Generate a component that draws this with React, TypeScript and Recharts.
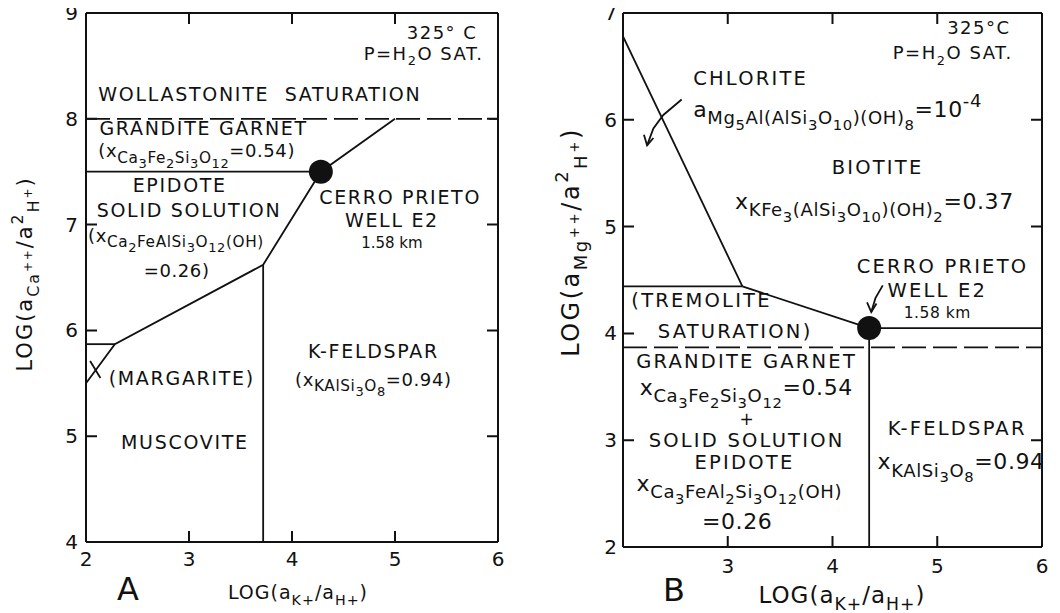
import React from 'react';
import { ScatterChart, Scatter, XAxis, YAxis } from 'recharts';

const FONT = '"DejaVu Sans", "Liberation Sans", sans-serif';
const INK = '#111';

type Pt = { x: number; y: number };
type Note = { x: number; y: number; text: string; anchor?: 'start' | 'middle' | 'end'; kind: string };

// ---------- Panel A: log(aCa++/a2H+) vs log(aK+/aH+) ----------
const aXDomain: [number, number] = [2, 6];
const aYDomain: [number, number] = [4, 9];
const aXTicks = [2, 3, 4, 5, 6];
const aYTicks = [4, 5, 6, 7, 8, 9];
const aWollastonite: Pt[] = [{ x: 2, y: 8 }, { x: 6, y: 8 }];
const aGarnetEpidote: Pt[] = [{ x: 2, y: 7.5 }, { x: 4.28, y: 7.5 }];
const aMainBoundary: Pt[] = [
  { x: 2, y: 5.5 },
  { x: 2.28, y: 5.87 },
  { x: 3.72, y: 6.62 },
  { x: 4.28, y: 7.5 },
  { x: 5.0, y: 8.0 },
];
const aMargariteTop: Pt[] = [{ x: 2, y: 5.87 }, { x: 2.28, y: 5.87 }];
const aMuscoviteKfs: Pt[] = [{ x: 3.72, y: 4 }, { x: 3.72, y: 6.62 }];
const aArrow: Pt[] = [{ x: 2.04, y: 5.71 }, { x: 2.14, y: 5.55 }];
const aWell: Pt[] = [{ x: 4.28, y: 7.5 }];
const aNotes: Note[] = [
  { x: 5.8, y: 8.82, text: '325° C', anchor: 'end', kind: 'cond' },
  { x: 5.86, y: 8.62, text: 'P=H_{2}O SAT.', anchor: 'end', kind: 'cond' },
  { x: 2.12, y: 8.23, text: 'WOLLASTONITE  SATURATION', anchor: 'start', kind: 'name' },
  { x: 2.13, y: 7.91, text: 'GRANDITE GARNET', anchor: 'start', kind: 'name' },
  { x: 2.12, y: 7.7, text: '(x_{Ca_{3}Fe_{2}Si_{3}O_{12}}=0.54)', anchor: 'start', kind: 'formula' },
  { x: 2.91, y: 7.37, text: 'EPIDOTE', kind: 'name' },
  { x: 3.0, y: 7.14, text: 'SOLID SOLUTION', kind: 'name' },
  { x: 2.02, y: 6.9, text: '(x_{Ca_{2}FeAlSi_{3}O_{12}(OH)}', anchor: 'start', kind: 'formula' },
  { x: 2.88, y: 6.57, text: '=0.26)', kind: 'formula' },
  { x: 5.05, y: 7.26, text: 'CERRO PRIETO', kind: 'name' },
  { x: 4.97, y: 7.04, text: 'WELL E2', kind: 'name' },
  { x: 4.97, y: 6.83, text: '1.58 km', kind: 'small' },
  { x: 4.79, y: 5.8, text: 'K-FELDSPAR', kind: 'name' },
  { x: 4.79, y: 5.54, text: '(x_{KAlSi_{3}O_{8}}=0.94)', kind: 'formula' },
  { x: 2.93, y: 5.55, text: '(MARGARITE)', kind: 'name' },
  { x: 2.96, y: 4.94, text: 'MUSCOVITE', kind: 'name' },
];

// ---------- Panel B: log(aMg++/a2H+) vs log(aK+/aH+) ----------
const bXDomain: [number, number] = [2, 6];
const bYDomain: [number, number] = [2, 7];
const bXTicks = [2, 3, 4, 5, 6];
const bXLabels = [3, 4, 5, 6];
const bYTicks = [2, 3, 4, 5, 6, 7];
const bRightTicks = [3, 5, 6];
const bChloriteBoundary: Pt[] = [{ x: 2, y: 6.78 }, { x: 3.14, y: 4.44 }];
const bTremoliteTop: Pt[] = [{ x: 2, y: 4.44 }, { x: 3.14, y: 4.44 }];
const bTremoliteBiotite: Pt[] = [{ x: 3.14, y: 4.44 }, { x: 4.35, y: 4.05 }];
const bBiotiteKfs: Pt[] = [{ x: 4.35, y: 4.05 }, { x: 6, y: 4.05 }];
const bGarnetDash: Pt[] = [{ x: 2, y: 3.87 }, { x: 6, y: 3.87 }];
const bEpidoteKfs: Pt[] = [{ x: 4.35, y: 2 }, { x: 4.35, y: 4.05 }];
const bChloriteArrow: Pt[] = [
  { x: 2.56, y: 6.19 },
  { x: 2.385, y: 6.045 },
  { x: 2.29, y: 5.92 },
  { x: 2.23, y: 5.76 },
];
const bChloriteHead: Pt[] = [{ x: 2.2, y: 5.86 }, { x: 2.23, y: 5.76 }, { x: 2.29, y: 5.83 }];
const bWellArrow: Pt[] = [{ x: 4.48, y: 4.45 }, { x: 4.41, y: 4.33 }, { x: 4.37, y: 4.2 }];
const bWellHead: Pt[] = [{ x: 4.33, y: 4.29 }, { x: 4.37, y: 4.2 }, { x: 4.42, y: 4.28 }];
const bWell: Pt[] = [{ x: 4.35, y: 4.05 }];
const bNotes: Note[] = [
  { x: 5.7, y: 6.86, text: '325°C', anchor: 'end', kind: 'cond' },
  { x: 5.72, y: 6.63, text: 'P=H_{2}O SAT.', anchor: 'end', kind: 'cond' },
  { x: 2.67, y: 6.39, text: 'CHLORITE', anchor: 'start', kind: 'name' },
  { x: 2.67, y: 6.1, text: 'a_{Mg_{5}Al(AlSi_{3}O_{10})(OH)_{8}}=10^{-4}', anchor: 'start', kind: 'formula' },
  { x: 4.43, y: 5.56, text: 'BIOTITE', kind: 'name' },
  { x: 3.07, y: 5.24, text: 'x_{KFe_{3}(AlSi_{3}O_{10})(OH)_{2}}=0.37', anchor: 'start', kind: 'formula' },
  { x: 5.05, y: 4.63, text: 'CERRO PRIETO', kind: 'name' },
  { x: 5.0, y: 4.41, text: 'WELL E2', kind: 'name' },
  { x: 5.0, y: 4.2, text: '1.58 km', kind: 'small' },
  { x: 2.75, y: 4.31, text: '(TREMOLITE', kind: 'name' },
  { x: 3.07, y: 4.02, text: 'SATURATION)', kind: 'name' },
  { x: 3.18, y: 3.74, text: 'GRANDITE GARNET', kind: 'name' },
  { x: 2.16, y: 3.5, text: 'x_{Ca_{3}Fe_{2}Si_{3}O_{12}}=0.54', anchor: 'start', kind: 'formula' },
  { x: 3.18, y: 3.2, text: '+', kind: 'plus' },
  { x: 3.18, y: 3.0, text: 'SOLID SOLUTION', kind: 'name' },
  { x: 3.16, y: 2.8, text: 'EPIDOTE', kind: 'name' },
  { x: 2.13, y: 2.6, text: 'x_{Ca_{3}FeAl_{2}Si_{3}O_{12}(OH)}', anchor: 'start', kind: 'formula' },
  { x: 3.09, y: 2.24, text: '=0.26', kind: 'formula' },
  { x: 5.19, y: 3.11, text: 'K-FELDSPAR', kind: 'name' },
  { x: 4.43, y: 2.8, text: 'x_{KAlSi_{3}O_{8}}=0.94', anchor: 'start', kind: 'formula' },
];

// ---------- layout ----------
const W = 530;
const H = 613;
const A_LAYOUT = { yAxisW: 86, xAxisH: 71, top: 12, right: 31 };
const B_LAYOUT = { yAxisW: 93, xAxisH: 66, top: 12, right: 17 };
const TICK_PX = 11;

// ---------- rich text (sub/superscripts) ----------
type Run = { text: string; size: number; shift: number };

function parseRich(s: string, size: number, shift: number, scale: number): Run[] {
  const runs: Run[] = [];
  let buf = '';
  let i = 0;
  const flush = () => {
    if (buf) runs.push({ text: buf, size, shift });
    buf = '';
  };
  while (i < s.length) {
    const c = s[i];
    if ((c === '_' || c === '^') && s[i + 1] === '{') {
      flush();
      let depth = 0;
      let j = i + 1;
      for (; j < s.length; j++) {
        if (s[j] === '{') depth++;
        else if (s[j] === '}') {
          depth--;
          if (depth === 0) break;
        }
      }
      const inner = s.slice(i + 2, j);
      const off = c === '_' ? size * 0.32 : -size * 0.45;
      runs.push(...parseRich(inner, size * scale, shift + off, scale));
      i = j + 1;
    } else {
      buf += c;
      i++;
    }
  }
  flush();
  return runs;
}

function RichText(props: {
  x: number; y: number; text: string; size: number;
  anchor?: 'start' | 'middle' | 'end'; scale?: number; rotate?: boolean; spacing?: number;
}) {
  const { x, y, text, size, anchor = 'middle', scale = 0.75, rotate, spacing = 0 } = props;
  const runs = parseRich(text, size, 0, scale);
  let prev = 0;
  return (
    <text
      x={x}
      y={y}
      textAnchor={anchor}
      fontFamily={FONT}
      fill={INK}
      letterSpacing={spacing}
      style={{ whiteSpace: 'pre' }}
      transform={rotate ? `rotate(-90 ${x} ${y})` : undefined}
    >
      {runs.map((r, k) => {
        const dy = r.shift - prev;
        prev = r.shift;
        return (
          <tspan key={k} fontSize={r.size} dy={dy}>
            {r.text}
          </tspan>
        );
      })}
    </text>
  );
}

type NoteStyle = Record<string, { size: number; scale: number; spacing: number }>;
const aStyle: NoteStyle = {
  cond: { size: 18, scale: 0.72, spacing: 1.5 },
  name: { size: 19, scale: 0.75, spacing: 1.7 },
  formula: { size: 18, scale: 0.85, spacing: 0.6 },
  small: { size: 15, scale: 0.75, spacing: 0 },
};
const bStyle: NoteStyle = {
  cond: { size: 18, scale: 0.72, spacing: 1.5 },
  name: { size: 19.5, scale: 0.75, spacing: 2.2 },
  plus: { size: 17, scale: 0.75, spacing: 0 },
  formula: { size: 22, scale: 0.82, spacing: 0.6 },
  small: { size: 15.5, scale: 0.75, spacing: 0.5 },
};

const noShape = () => <g />;
const noteShape = (style: NoteStyle) => (p: any) => {
  const s = style[p.payload.kind];
  return (
    <RichText
      x={p.cx}
      y={p.cy + s.size * 0.36}
      text={p.payload.text}
      size={s.size}
      anchor={p.payload.anchor ?? 'middle'}
      scale={s.scale}
      spacing={s.spacing}
    />
  );
};
const wellShape = (p: any) => <circle cx={p.cx} cy={p.cy} r={12} fill={INK} />;

// inward tick marks: a path running along the frame that steps in at each tick value
const tickPath = (values: number[], edge: number, len: number, vertical: boolean): Pt[] =>
  values.slice().flatMap((v) =>
    vertical
      ? [{ x: v, y: edge }, { x: v, y: edge + len }, { x: v, y: edge }]
      : [{ x: edge, y: v }, { x: edge + len, y: v }, { x: edge, y: v }],
  );
const inner = (ticks: number[]) => ticks.slice(1, -1);

const axisLine = { stroke: INK, strokeWidth: 2 };
const labelBottom = (labels: number[], dy: number) => (p: any) =>
  labels.includes(p.payload.value) ? (
    <text x={p.x} y={p.y + dy} textAnchor="middle" fontSize={20} fontFamily={FONT} fill={INK}>
      {p.payload.value}
    </text>
  ) : (
    <g />
  );
const labelLeft = (dx: number) => (p: any) => (
  <text x={p.x - dx} y={p.y + 7} textAnchor="end" fontSize={20} fontFamily={FONT} fill={INK}>
    {p.payload.value}
  </text>
);

const boundaryLine = (data: Pt[], key: string, dashed = false, width = 1.8) => (
  <Scatter
    key={key}
    data={data}
    xAxisId="x"
    yAxisId="y"
    fill={INK}
    shape={noShape}
    line={{ stroke: INK, strokeWidth: width, strokeDasharray: dashed ? '24 7' : undefined }}
    lineJointType="linear"
    isAnimationActive={false}
  />
);

const axisCommon = { tickSize: 0, tickMargin: 0, tickLine: false, axisLine, interval: 0 as const, allowDataOverflow: true };

function PanelA() {
  const plotW = W - A_LAYOUT.yAxisW - A_LAYOUT.right - 1;
  const plotH = H - A_LAYOUT.top - 1 - A_LAYOUT.xAxisH;
  const lx = ((aXDomain[1] - aXDomain[0]) * TICK_PX) / plotW;
  const ly = ((aYDomain[1] - aYDomain[0]) * TICK_PX) / plotH;
  const xTitle = (p: any) => {
    const vb = p.viewBox;
    return (
      <g>
        <RichText x={vb.x + 212} y={vb.y + 57} text="LOG(a_{K+}/a_{H+})" size={19} spacing={1} />
        <text x={vb.x + 42} y={vb.y + 58} textAnchor="middle" fontSize={32} fontFamily={FONT} fill={INK}>
          A
        </text>
      </g>
    );
  };
  const yTitle = (p: any) => {
    const vb = p.viewBox;
    return <RichText x={vb.x + 32} y={274} text="LOG(a_{Ca^{++}}/a^{2}_{H^{+}})" size={21} spacing={2} rotate />;
  };
  return (
    <ScatterChart width={W} height={H} margin={{ top: A_LAYOUT.top, right: A_LAYOUT.right, bottom: 0, left: 0 }}>
      <XAxis xAxisId="x" type="number" dataKey="x" domain={aXDomain} ticks={aXTicks} height={A_LAYOUT.xAxisH}
        {...axisCommon} tick={labelBottom(aXTicks, 24)} label={{ content: xTitle }} />
      <XAxis xAxisId="top" orientation="top" type="number" dataKey="x" domain={aXDomain} ticks={aXTicks}
        height={1} {...axisCommon} tick={noShape} />
      <YAxis yAxisId="y" type="number" dataKey="y" domain={aYDomain} ticks={aYTicks} width={A_LAYOUT.yAxisW}
        {...axisCommon} tick={labelLeft(8)} label={{ content: yTitle }} />
      <YAxis yAxisId="right" orientation="right" type="number" dataKey="y" domain={aYDomain}
        ticks={aYTicks} width={1} {...axisCommon} tick={noShape} />
      <Scatter data={aWell} xAxisId="top" yAxisId="right" shape={noShape} isAnimationActive={false} />
      {boundaryLine(tickPath(inner(aXTicks), aYDomain[0], ly, true), 'tb', false, 2)}
      {boundaryLine(tickPath(inner(aXTicks), aYDomain[1], -ly, true), 'tt', false, 2)}
      {boundaryLine(tickPath(inner(aYTicks), aXDomain[0], lx, false), 'tl', false, 2)}
      {boundaryLine(tickPath(inner(aYTicks), aXDomain[1], -lx, false), 'tr', false, 2)}
      {boundaryLine(aWollastonite, 'wo', true)}
      {boundaryLine(aGarnetEpidote, 'ge')}
      {boundaryLine(aMainBoundary, 'main')}
      {boundaryLine(aMargariteTop, 'mt')}
      {boundaryLine(aMuscoviteKfs, 'mk')}
      {boundaryLine(aArrow, 'arr')}
      <Scatter data={aWell} xAxisId="x" yAxisId="y" shape={wellShape} isAnimationActive={false} />
      <Scatter data={aNotes} xAxisId="x" yAxisId="y" shape={noteShape(aStyle)} isAnimationActive={false} />
    </ScatterChart>
  );
}

function PanelB() {
  const plotW = W - B_LAYOUT.yAxisW - B_LAYOUT.right - 1;
  const plotH = H - B_LAYOUT.top - 1 - B_LAYOUT.xAxisH;
  const lx = ((bXDomain[1] - bXDomain[0]) * TICK_PX) / plotW;
  const ly = ((bYDomain[1] - bYDomain[0]) * TICK_PX) / plotH;
  const xTitle = (p: any) => {
    const vb = p.viewBox;
    return (
      <g>
        <RichText x={vb.x + 219} y={vb.y + 56} text="LOG(a_{K+}/a_{H+})" size={23} spacing={1} />
        <text x={vb.x + 51} y={vb.y + 54} textAnchor="middle" fontSize={32} fontFamily={FONT} fill={INK}>
          B
        </text>
      </g>
    );
  };
  const yTitle = (p: any) => {
    const vb = p.viewBox;
    return <RichText x={vb.x + 49} y={242} text="LOG(a_{Mg^{++}}/a^{2}_{H^{+}})" size={24} spacing={2.5} rotate />;
  };
  return (
    <ScatterChart width={W} height={H} margin={{ top: B_LAYOUT.top, right: B_LAYOUT.right, bottom: 0, left: 0 }}>
      <XAxis xAxisId="x" type="number" dataKey="x" domain={bXDomain} ticks={bXTicks} height={B_LAYOUT.xAxisH}
        {...axisCommon} tick={labelBottom(bXLabels, 26)} label={{ content: xTitle }} />
      <XAxis xAxisId="top" orientation="top" type="number" dataKey="x" domain={bXDomain} ticks={bXTicks}
        height={1} {...axisCommon} tick={noShape} />
      <YAxis yAxisId="y" type="number" dataKey="y" domain={bYDomain} ticks={bYTicks} width={B_LAYOUT.yAxisW}
        {...axisCommon} tick={labelLeft(6)} label={{ content: yTitle }} />
      <YAxis yAxisId="right" orientation="right" type="number" dataKey="y" domain={bYDomain}
        ticks={bYTicks} width={1} {...axisCommon} tick={noShape} />
      <Scatter data={bWell} xAxisId="top" yAxisId="right" shape={noShape} isAnimationActive={false} />
      {boundaryLine(tickPath(inner(bXTicks), bYDomain[0], ly, true), 'tb', false, 2)}
      {boundaryLine(tickPath(inner(bXTicks), bYDomain[1], -ly, true), 'tt', false, 2)}
      {boundaryLine(tickPath(inner(bYTicks), bXDomain[0], lx, false), 'tl', false, 2)}
      {boundaryLine(tickPath(bRightTicks, bXDomain[1], -lx, false), 'tr', false, 2)}
      {boundaryLine(bGarnetDash, 'gd', true)}
      {boundaryLine(bChloriteBoundary, 'cb')}
      {boundaryLine(bTremoliteTop, 'tt2')}
      {boundaryLine(bTremoliteBiotite, 'tbi')}
      {boundaryLine(bBiotiteKfs, 'bk')}
      {boundaryLine(bEpidoteKfs, 'ek')}
      {boundaryLine(bChloriteArrow, 'ca')}
      {boundaryLine(bChloriteHead, 'ch')}
      {boundaryLine(bWellArrow, 'wa')}
      {boundaryLine(bWellHead, 'wh')}
      <Scatter data={bWell} xAxisId="x" yAxisId="y" shape={wellShape} isAnimationActive={false} />
      <Scatter data={bNotes} xAxisId="x" yAxisId="y" shape={noteShape(bStyle)} isAnimationActive={false} />
    </ScatterChart>
  );
}

export default function App() {
  return (
    <div style={{ position: 'relative', left: -8, top: -8, width: 1060, height: 613, background: '#fff', overflow: 'hidden' }}>
      <div style={{ position: 'absolute', left: 0, top: 0 }}>
        <PanelA />
      </div>
      <div style={{ position: 'absolute', left: 530, top: 0 }}>
        <PanelB />
      </div>
    </div>
  );
}
